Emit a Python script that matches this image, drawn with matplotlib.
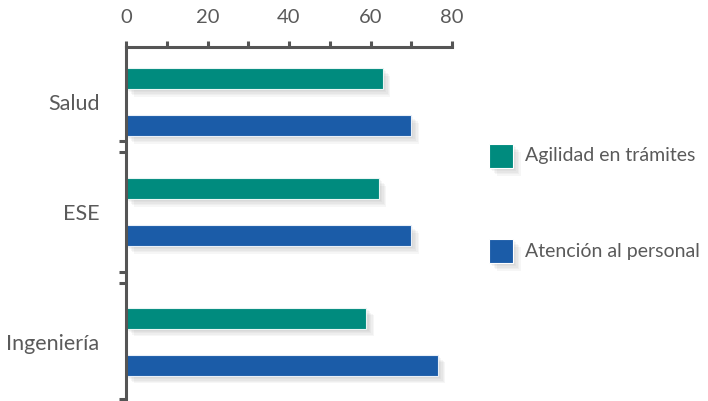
import matplotlib.pyplot as plt
import matplotlib.patheffects as pe
from matplotlib.patches import Rectangle
from matplotlib.ticker import MultipleLocator

categories = ['Salud', 'ESE', 'Ingeniería']
agilidad = [63, 62, 59]
atencion = [70, 70, 76.5]
series_names = ['Agilidad en trámites', 'Atención al personal']

# group centres (not evenly spaced in the original)
group_pos = [0, 1.0, 2.18]
separators = [0.355, 0.455, 1.545, 1.645, 2.705]

green = '#008B7E'
blue = '#1B5CA8'
gray = '#5a5a5a'
plt.rcParams['font.family'] = ['Lato', 'DejaVu Sans']

fig = plt.figure(figsize=(7.08, 4.01), dpi=100)
ax = fig.add_axes([126/708, 1 - 400/401, (452-126)/708, (400-47)/401])

# soft drop shadow built from a few faint layers
shadow = [pe.SimplePatchShadow(offset=(d, -d), shadow_rgbFace='#888888', alpha=0.07)
          for d in (1.5, 2.5, 3.5, 4.5, 5.5)] + [pe.Normal()]
off = 0.214
h = 0.19
b1 = ax.barh([p - off for p in group_pos], agilidad, height=h, color=green,
             edgecolor='#eaf5f3', linewidth=0.8)
b2 = ax.barh([p + off for p in group_pos], atencion, height=h, color=blue,
             edgecolor='#e8eff8', linewidth=0.8)
for bar in list(b1) + list(b2):
    bar.set_path_effects(shadow)

ax.set_xlim(0, 80)
ax.set_ylim(2.71, -0.5)
ax.xaxis.tick_top()
ax.xaxis.set_major_locator(MultipleLocator(20))
ax.xaxis.set_minor_locator(MultipleLocator(10))
ax.tick_params(axis='x', which='both', direction='out', length=4, width=2.2,
               color='#555555', labelsize=14.5, labelcolor=gray, pad=11)

ax.set_yticks(group_pos)
ax.set_yticklabels(categories)
ax.set_yticks(separators, minor=True)
ax.tick_params(axis='y', which='major', length=0, labelsize=15.5, labelcolor=gray, pad=19)
ax.tick_params(axis='y', which='minor', length=5, width=2.2, color='#555555')

for s in ['right', 'bottom']:
    ax.spines[s].set_visible(False)
for s in ['top', 'left']:
    ax.spines[s].set_linewidth(2.2)
    ax.spines[s].set_color('#555555')

# legend drawn by hand to match spacing
leg_x = 489 / 708
leg_y = [1 - 168 / 401, 1 - 263 / 401]
for col, name, y in zip([green, blue], series_names, leg_y):
    r = Rectangle((leg_x, y), 24 / 708, 24 / 401, transform=fig.transFigure,
                  facecolor=col, edgecolor='white', linewidth=0.8)
    r.set_path_effects(shadow)
    fig.add_artist(r)
    fig.text(leg_x + 36 / 708, y + 12 / 401, name, fontsize=14, color=gray,
             va='center', ha='left')

fig.savefig('out.png', dpi=100)
